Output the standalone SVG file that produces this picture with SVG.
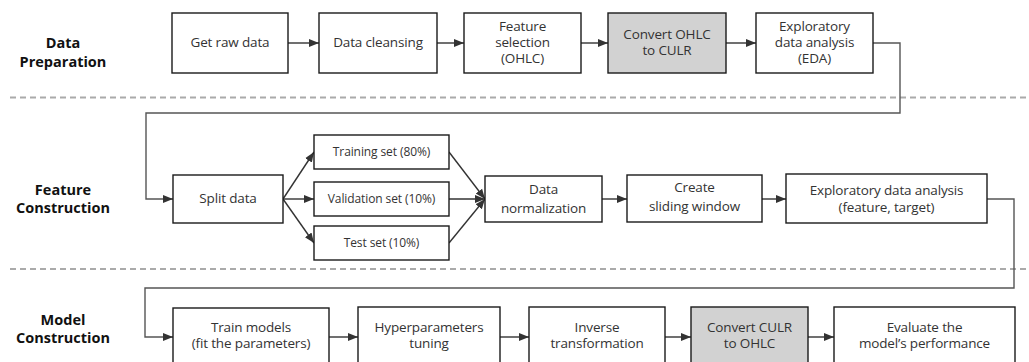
<svg xmlns="http://www.w3.org/2000/svg" width="1029" height="362" viewBox="0 0 1029 362">
<defs>
<marker id="ah" markerUnits="userSpaceOnUse" markerWidth="10" markerHeight="10" viewBox="0 0 10 10" refX="10" refY="5" orient="auto">
<path d="M0,1 L10,5 L0,9 Z" fill="#333"/>
</marker>
</defs>
<style>
.box{fill:#fff;stroke:#1a1a1a;stroke-width:1.4}
.gray{fill:#d2d2d2}
.t{font-family:"Open Sans","Noto Sans",sans-serif;font-size:13.5px;fill:#333;text-anchor:middle;letter-spacing:-0.15px}
.ts{font-family:"Open Sans","Noto Sans",sans-serif;font-size:12px;fill:#333;text-anchor:middle;letter-spacing:-0.1px}
.lab{font-family:"Open Sans","Noto Sans",sans-serif;font-size:14.5px;font-weight:bold;fill:#111;text-anchor:middle}
.c{fill:none;stroke:#333;stroke-width:1.4;marker-end:url(#ah)}
.loop{fill:none;stroke:#555;stroke-width:1.4}
.dash{stroke:#aaa;stroke-width:1.8;stroke-dasharray:6 4}
</style>
<rect width="1029" height="362" fill="#fff"/>
<g id="separators">
<line class="dash" x1="10" y1="97.5" x2="1029" y2="97.5"/>
<line class="dash" x1="10" y1="269" x2="1029" y2="269"/>
</g>
<g id="section-labels">
<text class="lab" x="63" y="48">Data<tspan x="63" dy="19">Preparation</tspan></text>
<text class="lab" x="63" y="195">Feature<tspan x="63" dy="18">Construction</tspan></text>
<text class="lab" x="63" y="325">Model<tspan x="63" dy="18">Construction</tspan></text>
</g>
<g id="connectors">
<path class="c" d="M288,43 H319"/>
<path class="c" d="M437,43 H464"/>
<path class="c" d="M581,43 H608"/>
<path class="c" d="M726,43 H756"/>
<path class="loop" d="M873,43 H900 V113 H146 V199 H165"/>
<path class="c" d="M165,199 H173"/>
<path class="c" d="M283,199 L314,152"/>
<path class="c" d="M283,199 H314"/>
<path class="c" d="M283,199 L314,243"/>
<path class="c" d="M449,152 L485,199"/>
<path class="c" d="M449,199 H485"/>
<path class="c" d="M449,243 L485,199"/>
<path class="c" d="M602,199 H627"/>
<path class="c" d="M762,199 H786"/>
<path class="loop" d="M987,199 H1014 V288 H145 V337 H165"/>
<path class="c" d="M165,337 H173"/>
<path class="c" d="M329,337 H358"/>
<path class="c" d="M500,337 H529"/>
<path class="c" d="M665,337 H691"/>
<path class="c" d="M808,337 H834"/>
</g>
<g id="get-raw-data"><rect class="box" x="172" y="13" width="116" height="60"/><text class="t" x="230" y="47">Get raw data</text></g>
<g id="data-cleansing"><rect class="box" x="319" y="13" width="118" height="60"/><text class="t" x="378" y="47">Data cleansing</text></g>
<g id="feature-selection"><rect class="box" x="464" y="13" width="117" height="60"/><text class="t" x="522.5" y="31">Feature<tspan x="522.5" dy="16">selection</tspan><tspan x="522.5" dy="16">(OHLC)</tspan></text></g>
<g id="convert-ohlc-culr"><rect class="box gray" x="608" y="13" width="118" height="60"/><text class="t" x="667" y="39">Convert OHLC<tspan x="667" dy="16">to CULR</tspan></text></g>
<g id="eda"><rect class="box" x="756" y="13" width="117" height="60"/><text class="t" x="814.5" y="31">Exploratory<tspan x="814.5" dy="16">data analysis</tspan><tspan x="814.5" dy="16">(EDA)</tspan></text></g>
<g id="split-data"><rect class="box" x="173" y="175" width="110" height="48"/><text class="t" x="228" y="203">Split data</text></g>
<g id="training-set"><rect class="box" x="314" y="135" width="135" height="34"/><text class="ts" x="381.5" y="156">Training set (80%)</text></g>
<g id="validation-set"><rect class="box" x="314" y="182" width="135" height="34"/><text class="ts" x="381.5" y="203">Validation set (10%)</text></g>
<g id="test-set"><rect class="box" x="314" y="226" width="135" height="34"/><text class="ts" x="381.5" y="247">Test set (10%)</text></g>
<g id="data-normalization"><rect class="box" x="485" y="176" width="117" height="46"/><text class="t" x="543.5" y="194">Data<tspan x="543.5" dy="19">normalization</tspan></text></g>
<g id="sliding-window"><rect class="box" x="627" y="175" width="135" height="47"/><text class="t" x="694.5" y="192">Create<tspan x="694.5" dy="19">sliding window</tspan></text></g>
<g id="eda-feature-target"><rect class="box" x="786" y="174" width="201" height="49"/><text class="t" x="886.5" y="195">Exploratory data analysis<tspan x="886.5" dy="17">(feature, target)</tspan></text></g>
<g id="train-models"><rect class="box" x="173" y="308" width="156" height="62"/><text class="t" x="251" y="332">Train models<tspan x="251" dy="16">(fit the parameters)</tspan></text></g>
<g id="hyperparameters"><rect class="box" x="358" y="307" width="142" height="63"/><text class="t" x="429" y="332">Hyperparameters<tspan x="429" dy="16">tuning</tspan></text></g>
<g id="inverse-transformation"><rect class="box" x="529" y="307" width="136" height="63"/><text class="t" x="597" y="332">Inverse<tspan x="597" dy="16">transformation</tspan></text></g>
<g id="convert-culr-ohlc"><rect class="box gray" x="691" y="307" width="117" height="63"/><text class="t" x="749.5" y="332">Convert CULR<tspan x="749.5" dy="16">to OHLC</tspan></text></g>
<g id="evaluate"><rect class="box" x="834" y="307" width="181" height="63"/><text class="t" x="924.5" y="332">Evaluate the<tspan x="924.5" dy="16">model’s performance</tspan></text></g>
</svg>
